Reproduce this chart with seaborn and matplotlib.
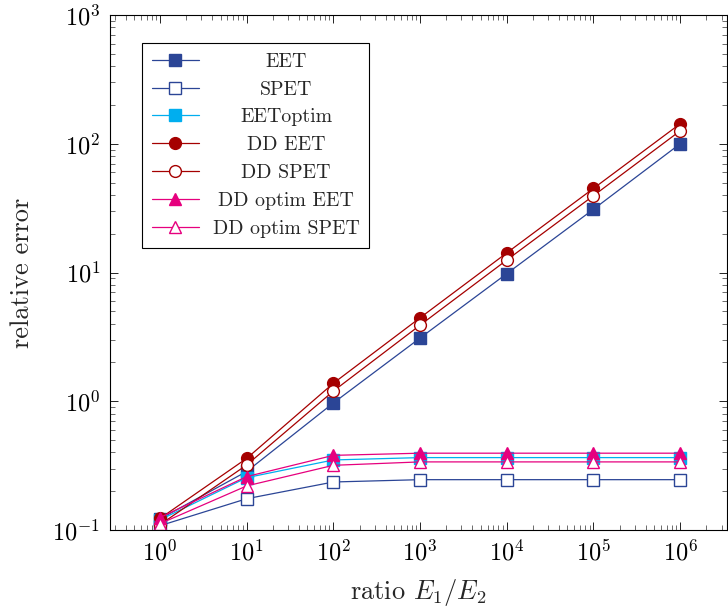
import matplotlib
matplotlib.use('Agg')
import matplotlib.pyplot as plt
import seaborn as sns
import numpy as np
from matplotlib.ticker import LogLocator, NullFormatter, FixedLocator

ratio = [1e0, 1e1, 1e2, 1e3, 1e4, 1e5, 1e6]
eet = [0.122, 0.285, 0.97, 3.1, 9.8, 31, 100]
spet = [0.108, 0.175, 0.236, 0.246, 0.246, 0.246, 0.246]
eet_optim = [0.12, 0.255, 0.35, 0.365, 0.365, 0.365, 0.365]
dd_eet = [0.123, 0.36, 1.38, 4.45, 14.2, 45, 143]
dd_spet = [0.11, 0.32, 1.2, 3.9, 12.5, 39.5, 126]
dd_optim_eet = [0.125, 0.26, 0.38, 0.395, 0.395, 0.395, 0.395]
dd_optim_spet = [0.112, 0.22, 0.318, 0.338, 0.338, 0.338, 0.338]

names = ['EET', 'SPET', 'EEToptim', 'DD EET', 'DD SPET', 'DD optim EET', 'DD optim SPET']
xticks = [1e0, 1e1, 1e2, 1e3, 1e4, 1e5, 1e6]
yticks = [1e-1, 1e0, 1e1, 1e2, 1e3]

navy = '#2b4596'
cyan = '#00aeef'
red = '#a50000'
pink = '#e6007e'

# (values, colour, marker, filled)
series = [
    (eet, navy, 's', True),
    (spet, navy, 's', False),
    (eet_optim, cyan, 's', True),
    (dd_eet, red, 'o', True),
    (dd_spet, red, 'o', False),
    (dd_optim_eet, pink, '^', True),
    (dd_optim_spet, pink, '^', False),
]

sns.set_theme(style='ticks')
plt.rcParams['font.family'] = 'serif'
plt.rcParams['font.serif'] = ['cmr10', 'DejaVu Serif']
plt.rcParams['mathtext.fontset'] = 'cm'
plt.rcParams['axes.formatter.use_mathtext'] = True

fig = plt.figure(figsize=(7.28, 6.12), dpi=100)
ax = fig.add_axes([110 / 728, 82 / 612, 617 / 728, 515 / 612])

for (vals, col, mk, filled), name in zip(series, names):
    sns.lineplot(x=ratio, y=vals, ax=ax, color=col, marker=mk, markersize=8.5,
                 markerfacecolor=col if filled else 'white', markeredgecolor=col,
                 markeredgewidth=1.0, linewidth=0.9, label=name)

ax.set_xscale('log')
ax.set_yscale('log')
ax.set_xlim(10 ** -0.577, 10 ** 6.54)
ax.set_ylim(0.1, 1000)

ax.xaxis.set_major_locator(FixedLocator(xticks))
ax.xaxis.set_minor_locator(LogLocator(base=10, subs=np.arange(2, 10), numticks=20))
ax.xaxis.set_minor_formatter(NullFormatter())
ax.yaxis.set_major_locator(FixedLocator(yticks))
ax.yaxis.set_minor_locator(LogLocator(base=10, subs=np.arange(2, 10), numticks=20))
ax.yaxis.set_minor_formatter(NullFormatter())

ax.tick_params(which='both', direction='in', top=True, right=True, colors='black',
               labelsize=17.5, width=0.6)
ax.tick_params(which='major', length=6, pad=7)
ax.tick_params(which='minor', length=3.5, color='#555555')
for s in ax.spines.values():
    s.set_linewidth(0.8)
    s.set_color('black')

ax.set_xlabel(r'ratio $E_1/E_2$', fontsize=19, labelpad=8)
ax.set_ylabel('relative error', fontsize=19, labelpad=13)

leg = ax.legend(loc='upper left', bbox_to_anchor=(0.052, 0.946), borderaxespad=0,
                fontsize=14.3, frameon=True, fancybox=False, edgecolor='black',
                framealpha=1, handlelength=2.35, handletextpad=0.7,
                labelspacing=0.5, borderpad=0.5)
leg.get_frame().set_linewidth(0.8)

# centre the legend texts in their column, like pgfplots does
renderer = fig.canvas.get_renderer()
widths = [t.get_window_extent(renderer).width for t in leg.get_texts()]
wmax = max(widths)
for t, w in zip(leg.get_texts(), widths):
    t.set_position(((wmax - w) / 2, 0))

fig.savefig('out.png', dpi=100)
